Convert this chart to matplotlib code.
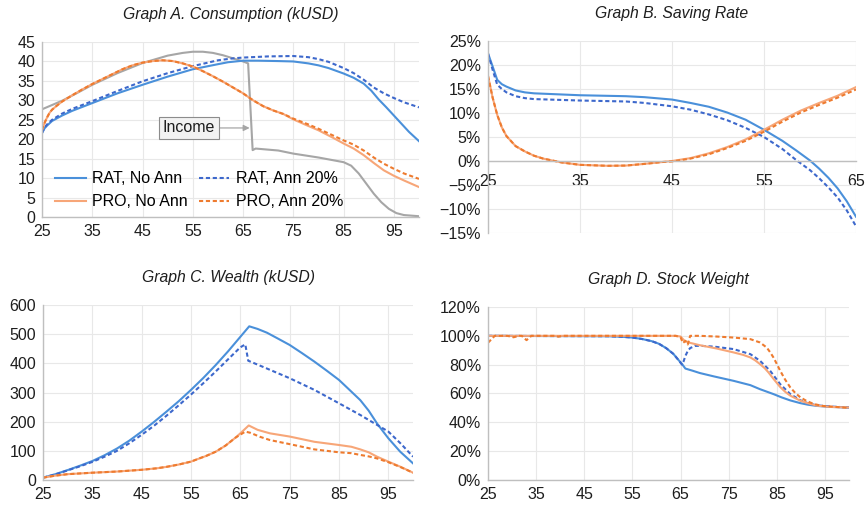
import matplotlib
matplotlib.use('Agg')
import matplotlib.pyplot as plt

plt.rcParams['font.family'] = ['Liberation Sans', 'DejaVu Sans']

# Colours (Excel-like)
c_rat = '#4A90DA'
c_rat_ann = '#3D68CC'
c_pro = '#F7A678'
c_pro_ann = '#EE7B2F'
c_income = '#A6A6A6'
c_grid = '#E8E8E8'
c_spine = '#BFBFBF'
c_text = '#1E1E1E'

labels = ['RAT, No Ann', 'PRO, No Ann', 'RAT, Ann 20%', 'PRO, Ann 20%']

# ---- Graph A. Consumption (kUSD)
age_a_rat = [25, 25.5, 26, 27, 28, 29, 31, 33, 35, 40, 45, 50, 55, 60, 62, 65, 68, 72, 75,
             78, 80, 82, 85, 87, 89, 90.5, 92, 93.5, 95, 96.5, 98, 100]
rat_no_ann_a = [21.6, 22.8, 23.5, 24.7, 25.4, 26.1, 27.3, 28.3, 29.3, 31.8, 34.0, 36.1,
                38.0, 39.3, 39.8, 40.2, 40.2, 40.1, 40.0, 39.5, 39.0, 38.3, 36.9, 35.8,
                34.3, 32.5, 30.2, 28.2, 26.1, 24.0, 21.9, 19.5]
age_a_rat_ann = [25, 25.5, 26, 27, 28, 29, 31, 33, 35, 40, 45, 50, 55, 60, 63, 65, 70, 75,
                 78, 80, 82, 85, 87, 89, 91, 93, 95, 97, 100]
rat_ann_a = [21.6, 23.0, 23.8, 25.0, 25.8, 26.6, 27.8, 28.8, 29.8, 32.4, 34.9, 37.0, 38.8,
             40.3, 40.8, 41.0, 41.3, 41.4, 41.1, 40.6, 39.9, 38.3, 37.0, 35.3, 33.3, 31.8,
             30.6, 29.5, 28.2]
age_a_pro = [25, 25.3, 25.6, 26, 26.5, 27, 28, 29, 31, 33, 35, 38, 41, 43, 45, 47, 49, 51,
             53, 55, 57, 59, 61, 63, 65, 67, 69, 71, 73, 75, 78, 80, 83, 85, 87, 89, 91,
             93, 95, 97, 100]
pro_no_ann_a = [22.4, 23.5, 24.5, 25.6, 26.8, 27.6, 28.7, 29.7, 31.3, 32.8, 34.2, 36.1,
                38.0, 39.0, 39.7, 40.1, 40.3, 40.1, 39.5, 38.7, 37.5, 36.2, 34.8, 33.3,
                31.8, 30.0, 28.5, 27.4, 26.5, 25.1, 23.4, 22.3, 20.3, 18.9, 17.6, 15.9,
                13.9, 12.0, 10.6, 9.4, 7.7]
pro_ann_a = [22.4, 23.5, 24.5, 25.6, 26.8, 27.6, 28.7, 29.7, 31.3, 32.8, 34.2, 36.1, 38.0,
             39.0, 39.7, 40.1, 40.3, 40.1, 39.5, 38.7, 37.5, 36.2, 34.8, 33.3, 31.8, 30.0,
             28.5, 27.4, 26.5, 25.3, 23.8, 22.7, 20.9, 19.7, 18.6, 17.1, 15.3, 13.7, 12.4,
             11.2, 9.8]
age_income = [25, 27, 29, 32, 35, 40, 45, 50, 53, 55, 57, 59, 61, 63, 65, 66.0, 66.9, 67.5,
              72, 75, 80, 85, 86.5, 88, 89.5, 91, 92.5, 94, 95.5, 97, 100]
income = [27.7, 28.8, 29.9, 31.9, 34.0, 37.0, 39.6, 41.5, 42.2, 42.5, 42.5, 42.2, 41.6,
          40.8, 40.0, 39.5, 17.2, 17.6, 17.1, 16.3, 15.3, 14.1, 13.2, 11.2, 8.6, 6.0, 3.8,
          2.1, 1.0, 0.5, 0.2]

# ---- Graph B. Saving Rate (%)
age_b_rat = [25, 25.5, 26, 26.5, 27, 28, 29, 30, 35, 40, 42, 45, 47, 49, 51, 53, 55, 57,
             58.5, 60, 61, 62, 63, 64, 65]
rat_no_ann_b = [22.4, 19.7, 16.9, 16.0, 15.5, 14.7, 14.3, 14.1, 13.7, 13.5, 13.3, 12.8,
                12.1, 11.3, 10.1, 8.6, 6.5, 4.2, 2.2, 0.1, -1.6, -3.5, -5.7, -8.4, -11.6]
rat_ann_b = [22.4, 19.0, 15.9, 15.0, 14.3, 13.5, 13.1, 12.9, 12.6, 12.4, 12.1, 11.4, 10.7,
             9.7, 8.5, 6.9, 5.0, 2.5, 0.2, -1.9, -3.6, -5.5, -7.6, -10.3, -13.6]
age_b_pro = [25, 25.5, 26, 26.5, 27, 28, 29, 30, 31, 32, 33, 35, 38, 40, 42, 44, 45, 47,
             49, 51, 53, 55, 57, 59, 61, 63, 65]
pro_no_ann_b = [17.7, 13.2, 9.6, 7.0, 5.2, 3.1, 2.0, 1.1, 0.5, 0.1, -0.3, -0.8, -1.0,
                -0.95, -0.6, -0.2, 0.0, 0.6, 1.6, 2.9, 4.5, 6.5, 8.6, 10.5, 12.1, 13.6, 15.4]
pro_ann_b = [17.7, 13.2, 9.6, 7.0, 5.2, 3.1, 2.0, 1.1, 0.5, 0.1, -0.3, -0.8, -1.0, -0.95,
             -0.6, -0.2, -0.1, 0.5, 1.4, 2.7, 4.2, 6.1, 8.2, 10.1, 11.7, 13.2, 14.9]

# ---- Graph C. Wealth (kUSD)
age_c_rat = [25, 27.5, 30, 32.5, 35, 37.5, 40, 42.5, 45, 47.5, 50, 52.5, 55, 57.5, 60,
             62.5, 65, 66.8, 68.5, 70.4, 72.5, 75, 77.5, 80, 82.5, 85, 87, 89.3, 91, 92.7,
             94, 95, 97.4, 100]
rat_no_ann_c = [8, 20, 34, 49, 65, 85, 108, 135, 166, 199, 234, 270, 309, 350, 394, 441,
                491, 527, 518, 505, 486, 463, 435, 406, 375, 343, 311, 274, 238, 194, 165,
                143, 97, 57]
age_c_rat_ann = [25, 27.5, 30, 32.5, 35, 37.5, 40, 42.5, 45, 47.5, 50, 52.5, 55, 57.5, 60,
                 63, 65, 66.0, 66.6, 70, 75, 80, 85, 89.3, 92, 95, 97.5, 100]
rat_ann_c = [8, 19, 33, 47, 62, 80, 100, 126, 155, 186, 220, 256, 293, 332, 372, 422, 455,
             465, 409, 385, 349, 309, 263, 223, 196, 166, 125, 80]
age_c_pro = [25, 27.5, 30, 35, 40, 45, 48, 50, 52.5, 55, 57, 58, 60, 62, 64, 65, 66.7,
             68.5, 71, 75, 80, 85, 87.5, 89.3, 91, 92.7, 95, 97.5, 100]
pro_no_ann_c = [8, 15, 20, 25, 29, 35, 40, 45, 53, 63, 76, 82, 97, 118, 145, 160, 187,
                172, 160, 149, 131, 120, 114, 105, 95, 80, 63, 45, 25]
age_c_pro_ann = [25, 27.5, 30, 35, 40, 45, 48, 50, 52.5, 55, 57, 58, 60, 62, 64, 66, 67,
                 69, 71, 75, 80, 85, 87.5, 89.3, 91, 92.7, 95, 97.5, 100]
pro_ann_c = [8, 15, 20, 25, 29, 35, 40, 45, 53, 63, 76, 82, 97, 118, 145, 166, 162, 148,
             137, 123, 105, 95, 92, 86, 81, 74, 61, 44, 25]

# ---- Graph D. Stock Weight (%)
age_d_rat = [25, 50, 53, 55, 57, 59, 60.5, 62, 63.5, 64.5, 65.3, 66, 67.5, 69, 72, 76,
             79.5, 81.5, 84.3, 86, 87.8, 89.9, 91.5, 93.3, 96, 100]
rat_no_ann_d = [100, 99.7, 99.3, 98.8, 97.8, 96.3, 94.5, 91.5, 87.5, 83.5, 80.5, 77.3,
                75.8, 74.2, 71.8, 68.8, 65.8, 63, 59.6, 57.3, 55.2, 53.3, 52.2, 51.4, 50.7,
                50.3]
age_d_rat_ann = [25, 50, 53, 55, 57, 59, 60.5, 62, 63.5, 64.5, 65.3, 65.6, 66, 66.5, 67,
                 68, 69, 72, 76, 79.5, 81.5, 83.6, 85.7, 87.8, 89.9, 91.5, 93.3, 96, 100]
rat_ann_d = [100, 99.7, 99.3, 98.8, 97.8, 96.3, 94.5, 91.5, 87.5, 83.5, 80.0, 82, 86,
             89.5, 91.5, 93, 93.1, 92.5, 90.8, 87.3, 82.7, 75.8, 66.5, 59.6, 55.3, 53.2,
             51.8, 51, 50.3]
age_d_pro = [25, 64, 65, 65.7, 66.5, 69, 72.5, 76, 78, 79.5, 80.5, 81.5, 82.5, 83.3, 84.3,
             85.7, 86.8, 87.8, 89.9, 91.5, 93.3, 96, 100]
pro_no_ann_d = [100, 100, 99.5, 97, 95.5, 93.5, 91.2, 88.5, 86.8, 85, 83, 80.4, 77.5,
                74.5, 70.2, 64.5, 61, 58.5, 55, 53.2, 51.6, 50.7, 50.3]
age_d_pro_ann = [25, 26.4, 29, 30.3, 31.5, 32, 33, 34, 39, 39.6, 40.5, 60, 64, 65, 65.5,
                 66, 66.5, 67, 69, 72.5, 76, 79.5, 81.5, 82.9, 83.6, 84.3, 85, 85.7, 86.7,
                 87.8, 88.8, 89.9, 91.2, 92.7, 94.5, 96.8, 100]
pro_ann_d = [95.2, 100, 100, 99, 100, 100, 97, 100, 100, 99.4, 100, 100, 100, 99, 95,
             96.5, 94, 100, 100, 99.5, 98.8, 97.7, 95.4, 91.9, 88.7, 85, 80.5, 75.8, 69.8,
             64.2, 60.5, 57.3, 54.8, 52.7, 51.4, 50.8, 50]

age_ticks = [25, 35, 45, 55, 65, 75, 85, 95]
dash = (2, 1.3)
lw = 1.5


def style_axes(ax, title, xlim, yticks, ylabels, xticks):
    ax.set_xlim(xlim)
    ax.set_ylim(yticks[0], yticks[-1])
    ax.set_xticks(xticks)
    ax.set_yticks(yticks)
    ax.set_yticklabels(ylabels)
    ax.tick_params(length=0, labelsize=11.5, colors=c_text, pad=5)
    ax.grid(True, color=c_grid, lw=0.8)
    ax.set_axisbelow(True)
    for s in ['top', 'right']:
        ax.spines[s].set_visible(False)
    for s in ['left', 'bottom']:
        ax.spines[s].set_color(c_spine)
        ax.spines[s].set_linewidth(1)
    ax.set_title(title, fontsize=11.3, style='italic', color=c_text, pad=16.5)


def four_lines(ax, a_rat, rat, a_rat_ann, rat_ann, a_pro, pro, a_pro_ann, pro_ann):
    l1, = ax.plot(a_rat, rat, color=c_rat, lw=lw)
    l3, = ax.plot(a_rat_ann, rat_ann, color=c_rat_ann, lw=lw, dashes=dash)
    l2, = ax.plot(a_pro, pro, color=c_pro, lw=lw)
    l4, = ax.plot(a_pro_ann, pro_ann, color=c_pro_ann, lw=lw, dashes=dash)
    return [l1, l2, l3, l4]


fig = plt.figure(figsize=(8.65, 5.05), dpi=100)
ax_a = fig.add_axes([0.0486, 0.5703, 0.4358, 0.3465])
ax_b = fig.add_axes([0.5642, 0.5386, 0.4254, 0.3802])
ax_c = fig.add_axes([0.0497, 0.0495, 0.4278, 0.3465])
ax_d = fig.add_axes([0.5642, 0.0495, 0.4173, 0.3426])

# Graph A
ax_a.plot(age_income, income, color=c_income, lw=lw)
lines = four_lines(ax_a, age_a_rat, rat_no_ann_a, age_a_rat_ann, rat_ann_a,
                   age_a_pro, pro_no_ann_a, age_a_pro, pro_ann_a)
yt = list(range(0, 50, 5))
style_axes(ax_a, 'Graph A. Consumption (kUSD)', (25, 100), yt, [str(v) for v in yt],
           age_ticks)
ax_a.annotate('Income', xy=(66.3, 22.9), xytext=(54.2, 22.9), ha='center', va='center',
              fontsize=11.5, color=c_text,
              bbox=dict(boxstyle='square,pad=0.22', fc='#F2F2F2', ec='#8C8C8C', lw=0.8),
              arrowprops=dict(arrowstyle='-|>', color=c_income, lw=0.9,
                              shrinkA=0, shrinkB=0, mutation_scale=9))
ax_a.legend(lines, labels, ncol=2, loc='lower left', bbox_to_anchor=(0.035, 0.045),
            frameon=False, fontsize=11.5, handlelength=1.9, handletextpad=0.4,
            columnspacing=0.7, labelspacing=0.5, borderpad=0, borderaxespad=0)

# Graph B
four_lines(ax_b, age_b_rat, rat_no_ann_b, age_b_rat, rat_ann_b,
           age_b_pro, pro_no_ann_b, age_b_pro, pro_ann_b)
yt = list(range(-15, 30, 5))
style_axes(ax_b, 'Graph B. Saving Rate', (25, 65), yt,
           [('\u2212' if v < 0 else '') + '%d%%' % abs(v) for v in yt],
           [25, 35, 45, 55, 65])
ax_b.spines['bottom'].set_position(('data', 0))
ax_b.tick_params(axis='x', pad=9)

# Graph C
four_lines(ax_c, age_c_rat, rat_no_ann_c, age_c_rat_ann, rat_ann_c,
           age_c_pro, pro_no_ann_c, age_c_pro_ann, pro_ann_c)
yt = list(range(0, 700, 100))
style_axes(ax_c, 'Graph C. Wealth (kUSD)', (25, 100), yt, [str(v) for v in yt],
           age_ticks)

# Graph D
four_lines(ax_d, age_d_rat, rat_no_ann_d, age_d_rat_ann, rat_ann_d,
           age_d_pro, pro_no_ann_d, age_d_pro_ann, pro_ann_d)
yt = list(range(0, 140, 20))
style_axes(ax_d, 'Graph D. Stock Weight', (25, 100), yt, ['%d%%' % v for v in yt],
           age_ticks)

fig.savefig('out.png', dpi=100)
